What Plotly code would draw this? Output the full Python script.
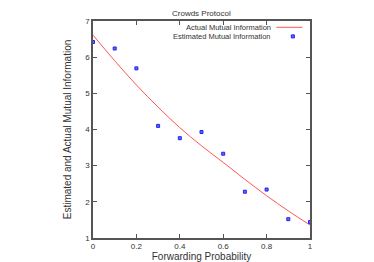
import plotly.graph_objects as go

prob = [0, 0.1, 0.2, 0.3, 0.4, 0.5, 0.6, 0.7, 0.8, 0.9, 1.0]
actual = [6.61, 5.90, 5.23, 4.62, 4.05, 3.55, 3.09, 2.62, 2.17, 1.75, 1.36]
estimated = [6.42, 6.24, 5.69, 4.10, 3.76, 3.93, 3.33, 2.28, 2.34, 1.52, 1.44]
x_ticks = [0, 0.2, 0.4, 0.6, 0.8, 1]
x_tick_text = ["0", "0.2", "0.4", "0.6", "0.8", "1"]
y_ticks = [1, 2, 3, 4, 5, 6, 7]

FONT = "Liberation Sans, Arial, sans-serif"

fig = go.Figure()
fig.add_trace(go.Scatter(x=prob, y=actual, mode="lines", line=dict(color="#ff5555", width=1, shape="spline"),
                         name="Actual Mutual Information", showlegend=False, cliponaxis=True))
fig.add_trace(go.Scatter(x=prob, y=estimated, mode="markers",
                         marker=dict(symbol="square", size=3, color="#6666ff", line=dict(color="#2222ee", width=1)),
                         name="Estimated Mutual Information", showlegend=False, cliponaxis=False))

axis_common = dict(showgrid=False, zeroline=False, showline=True, linecolor="#555555", linewidth=1.5,
                   mirror="ticks", ticks="inside", ticklen=4, tickcolor="#555555", tickwidth=1,
                   automargin=False,
                   tickfont=dict(family=FONT, size=8, color="#333333"))

fig.update_layout(
    width=374, height=262,
    margin=dict(l=85, r=72, t=13, b=32, autoexpand=False),
    paper_bgcolor="white", plot_bgcolor="white",
    font=dict(family=FONT, size=8, color="#333333"),
    showlegend=False,
    xaxis=dict(range=[0, 1], tickvals=x_ticks, ticktext=x_tick_text,
               title=dict(text="Forwarding Probability", font=dict(family=FONT, size=10, color="#333333"), standoff=2),
               **axis_common),
    yaxis=dict(range=[1, 7], tickvals=y_ticks,
               title=dict(text="Estimated and Actual Mutual Information", font=dict(family=FONT, size=10, color="#333333"), standoff=12),
               **axis_common),
    annotations=[
        dict(text="Crowds Protocol", xref="paper", yref="paper", x=0.5, y=1, yshift=8, showarrow=False,
             font=dict(family=FONT, size=8, color="#333333"), xanchor="center", yanchor="middle"),
        dict(text="Actual Mutual Information", xref="paper", yref="paper", x=0.825, y=0.971, showarrow=False,
             height=8, borderpad=0,
             font=dict(family=FONT, size=7.5, color="#333333"), xanchor="right", yanchor="middle"),
        dict(text="Estimated Mutual Information", xref="paper", yref="paper", x=0.825, y=0.929, showarrow=False,
             height=8, borderpad=0,
             font=dict(family=FONT, size=7.5, color="#333333"), xanchor="right", yanchor="middle"),
    ],
    shapes=[
        dict(type="line", xref="paper", yref="paper", x0=0.845, x1=0.965, y0=0.971, y1=0.971,
             line=dict(color="#ff5555", width=1)),
        dict(type="rect", xref="paper", yref="paper", x0=0.914, x1=0.928, y0=0.922, y1=0.936,
             line=dict(color="#2222ee", width=1), fillcolor="#6666ff"),
    ],
)

fig.write_html("out.html")
